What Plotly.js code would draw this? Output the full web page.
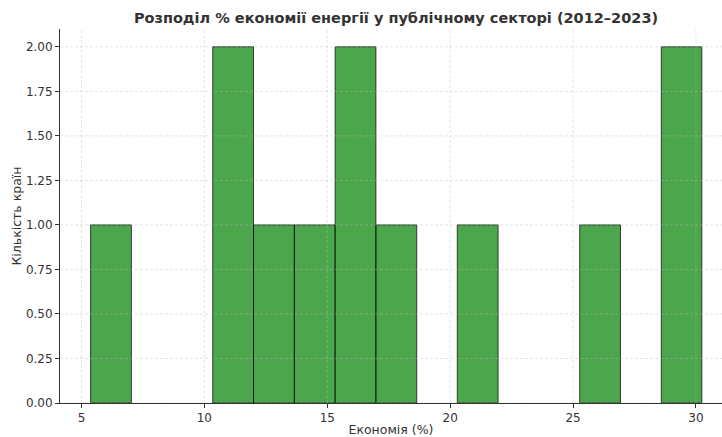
<!DOCTYPE html>
<html>
<head>
<meta charset="utf-8">
<script src="https://cdn.plot.ly/plotly-3.0.1.min.js"></script>
<style>html,body{margin:0;padding:0;background:#fff;}#chart{width:722px;height:437px;}</style>
</head>
<body>
<div id="chart"></div>
<script>
// Data
const binEdges = [5.37, 7.03, 8.69, 10.34, 12.00, 13.66, 15.32, 16.98, 18.64, 20.29, 21.95, 23.61, 25.27, 26.93, 28.59, 30.24];
const counts   = [1, 0, 0, 2, 1, 1, 2, 1, 0, 1, 0, 0, 1, 0, 2];
const xTicks = [5, 10, 15, 20, 25, 30];
const yTicks = [0, 0.25, 0.5, 0.75, 1.0, 1.25, 1.5, 1.75, 2.0];
const titleText = "Розподіл % економії енергії у публічному секторі (2012–2023)";
const xTitle = "Економія (%)";
const yTitle = "Кількість країн";

const xs = [], ys = [], ws = [];
for (let i = 0; i < counts.length; i++) {
  if (counts[i] > 0) {
    xs.push((binEdges[i] + binEdges[i + 1]) / 2);
    ws.push(binEdges[i + 1] - binEdges[i]);
    ys.push(counts[i]);
  }
}

const font = "DejaVu Sans, sans-serif";
const gridLine = {color:'rgba(190,190,190,0.5)', width:0.8, dash:'3px,2px'};
const gridShapes = [];
xTicks.forEach(v => gridShapes.push({type:'line', xref:'x', yref:'paper', x0:v, x1:v, y0:0, y1:1, layer:'above', line:gridLine}));
yTicks.forEach(v => gridShapes.push({type:'line', xref:'paper', yref:'y', x0:0, x1:1, y0:v, y1:v, layer:'above', line:gridLine}));

const trace = {
  type: 'bar', x: xs, y: ys, width: ws,
  marker: {color: 'rgba(0,128,0,0.7)', line: {color: 'rgba(0,0,0,0.7)', width: 1}},
  hoverinfo: 'x+y'
};

const layout = {
  width: 722, height: 437,
  margin: {l: 60, r: 0, t: 29, b: 34},
  paper_bgcolor: '#fff', plot_bgcolor: '#fff',
  font: {family: font, size: 12, color: '#333'},
  title: {text: '<b>' + titleText + '</b>', font: {family: font, size: 14.5, color: '#333'},
          x: (60 + 732) / 2 / 722, xanchor: 'center', y: 1 - 18 / 437, yanchor: 'middle', xref: 'container', yref: 'container'},
  xaxis: {
    range: [4.126, 31.06], tickvals: xTicks, ticktext: xTicks.map(String),
    showgrid: false, zeroline: false, showline: true, linecolor: '#333', linewidth: 1,
    ticks: 'outside', ticklen: 4, tickcolor: '#333', tickfont: {size: 12, color: '#333'},
    title: {text: xTitle, font: {size: 12.5, color: '#333'}, standoff: 3}, automargin: false
  },
  yaxis: {
    range: [0, 2.1], tickvals: yTicks, ticktext: yTicks.map(v => v.toFixed(2)),
    showgrid: false, zeroline: false, showline: true, linecolor: '#333', linewidth: 1,
    ticks: 'outside', ticklen: 4, tickcolor: '#333', tickfont: {size: 12, color: '#333'},
    title: {text: yTitle, font: {size: 12.5, color: '#333'}, standoff: 1}, automargin: false
  },
  shapes: gridShapes,
  bargap: 0, showlegend: false
};

Plotly.newPlot('chart', [trace], layout, {displayModeBar: false, staticPlot: true});
</script>
</body>
</html>
